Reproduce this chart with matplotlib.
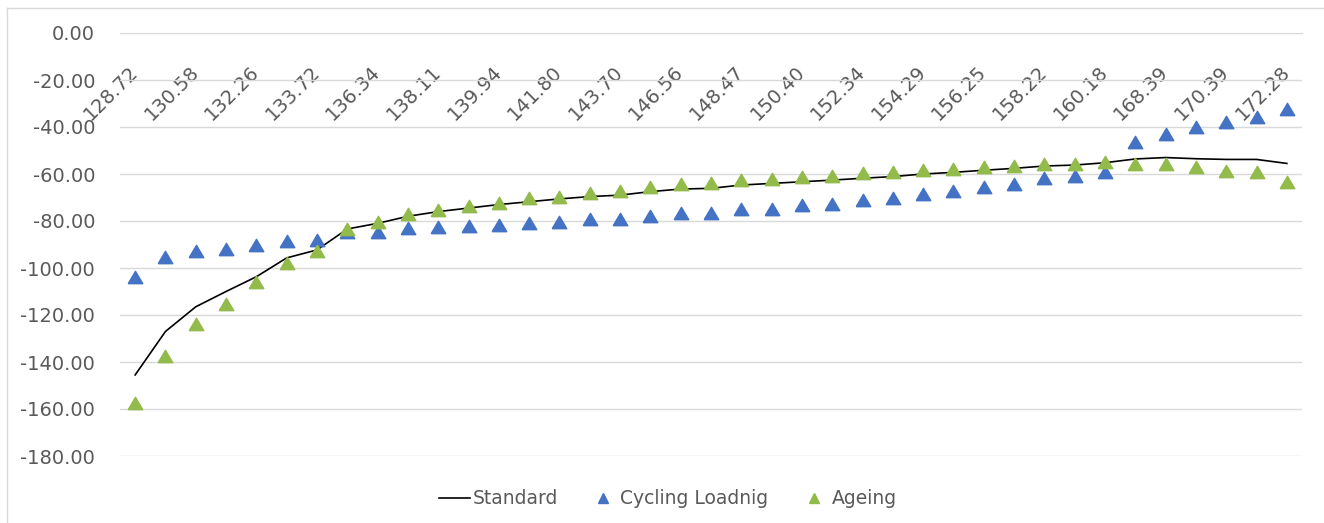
import numpy as np
import matplotlib
matplotlib.use("Agg")
import matplotlib.pyplot as plt
from matplotlib.lines import Line2D

tick_labels = ["128.72", "130.58", "132.26", "133.72", "136.34", "138.11", "139.94",
               "141.80", "143.70", "146.56", "148.47", "150.40", "152.34", "154.29",
               "156.25", "158.22", "160.18", "168.39", "170.39", "172.28"]

standard = [-145.5, -127.0, -116.5, -110.0, -103.7, -95.7, -92.3, -83.4, -81.0, -78.0,
            -76.0, -74.5, -73.0, -71.8, -70.6, -69.6, -69.0, -67.5, -66.4, -66.1,
            -64.7, -64.0, -63.3, -62.6, -61.8, -61.1, -60.0, -59.3, -58.4, -57.6,
            -56.6, -56.2, -55.2, -53.6, -53.0, -53.5, -53.8, -53.8, -55.5]

cycling = [-104.0, -95.3, -92.6, -92.0, -90.2, -88.5, -88.0, -84.5, -84.5, -83.0,
           -82.4, -82.0, -81.7, -80.7, -80.3, -79.1, -79.1, -77.7, -76.6, -76.6,
           -74.9, -74.9, -73.2, -72.8, -71.1, -70.1, -68.6, -67.1, -65.5, -64.3,
           -61.8, -60.9, -59.0, -46.5, -43.0, -40.1, -37.7, -35.6, -32.5]

ageing = [-157.3, -137.3, -123.8, -115.3, -105.8, -98.0, -92.8, -83.4, -80.3, -77.0,
          -75.3, -73.5, -72.2, -70.4, -69.6, -68.0, -67.2, -65.7, -64.3, -64.0,
          -62.6, -62.1, -61.1, -60.9, -59.7, -59.3, -58.3, -57.9, -57.0, -56.5,
          -55.7, -55.7, -54.8, -55.9, -55.7, -57.2, -58.7, -59.3, -63.3]

yticks = [0, -20, -40, -60, -80, -100, -120, -140, -160, -180]

BLUE = "#4472C4"
GREEN = "#92BB4B"
GRID = "#D9D9D9"
TXT = "#595959"
plt.rcParams['font.family'] = ["DejaVu Sans"]
plt.rcParams['axes.unicode_minus'] = False

fig = plt.figure(figsize=(13.24, 5.23), dpi=100)
ax = fig.add_axes([120/1324, (523-456)/523, (1302-120)/1324, (456-33)/523])

tri = [(-1, -0.85), (1, -0.85), (0, 0.85), (-1, -0.85)]

x = np.arange(len(standard))
ax.plot(x, standard, color="black", lw=1.2, zorder=3)
ax.plot(x, cycling, linestyle="none", marker=tri, ms=10.5, color=BLUE, zorder=4)
ax.plot(x, ageing, linestyle="none", marker=tri, ms=10.5, color=GREEN, zorder=5)

ax.set_xlim(-0.5, len(standard) - 0.5)
ax.set_ylim(-180, 0)
ax.set_yticks(yticks)
ax.set_yticklabels([f"{v:.2f}" for v in yticks])
ax.yaxis.grid(True, color=GRID, lw=1)
ax.set_axisbelow(True)
for s in ["left", "right", "top"]:
    ax.spines[s].set_visible(False)
ax.spines["bottom"].set_position(("data", 0))
ax.spines["bottom"].set_color(GRID)
ax.tick_params(axis="y", length=0, labelsize=14, labelcolor=TXT, pad=18)
ax.tick_params(axis="x", length=0, labelsize=14, labelcolor=TXT, pad=26)
ax.set_xticks(x[::2])
ax.set_xticklabels(tick_labels, rotation=45, ha="right", va="center", rotation_mode="anchor")

handles = [Line2D([], [], color="black", lw=1.2),
           Line2D([], [], color=BLUE, marker="^", ms=7, linestyle="none"),
           Line2D([], [], color=GREEN, marker="^", ms=7, linestyle="none")]
leg = fig.legend(handles, ["Standard", "Cycling Loadnig", "Ageing"], loc="center",
                 bbox_to_anchor=(668/1324, (523-499)/523), ncol=3, frameon=False,
                 fontsize=13.5, handlelength=1.65, handletextpad=0.1, columnspacing=1.6)
for t in leg.get_texts():
    t.set_color(TXT)

fig.add_artist(Line2D([7/1324, 1], [1-8/523, 1-8/523], color="#D9D9D9", lw=1))
fig.add_artist(Line2D([7/1324, 7/1324], [0, 1-8/523], color="#D9D9D9", lw=1))

fig.savefig("out.png", dpi=100)
